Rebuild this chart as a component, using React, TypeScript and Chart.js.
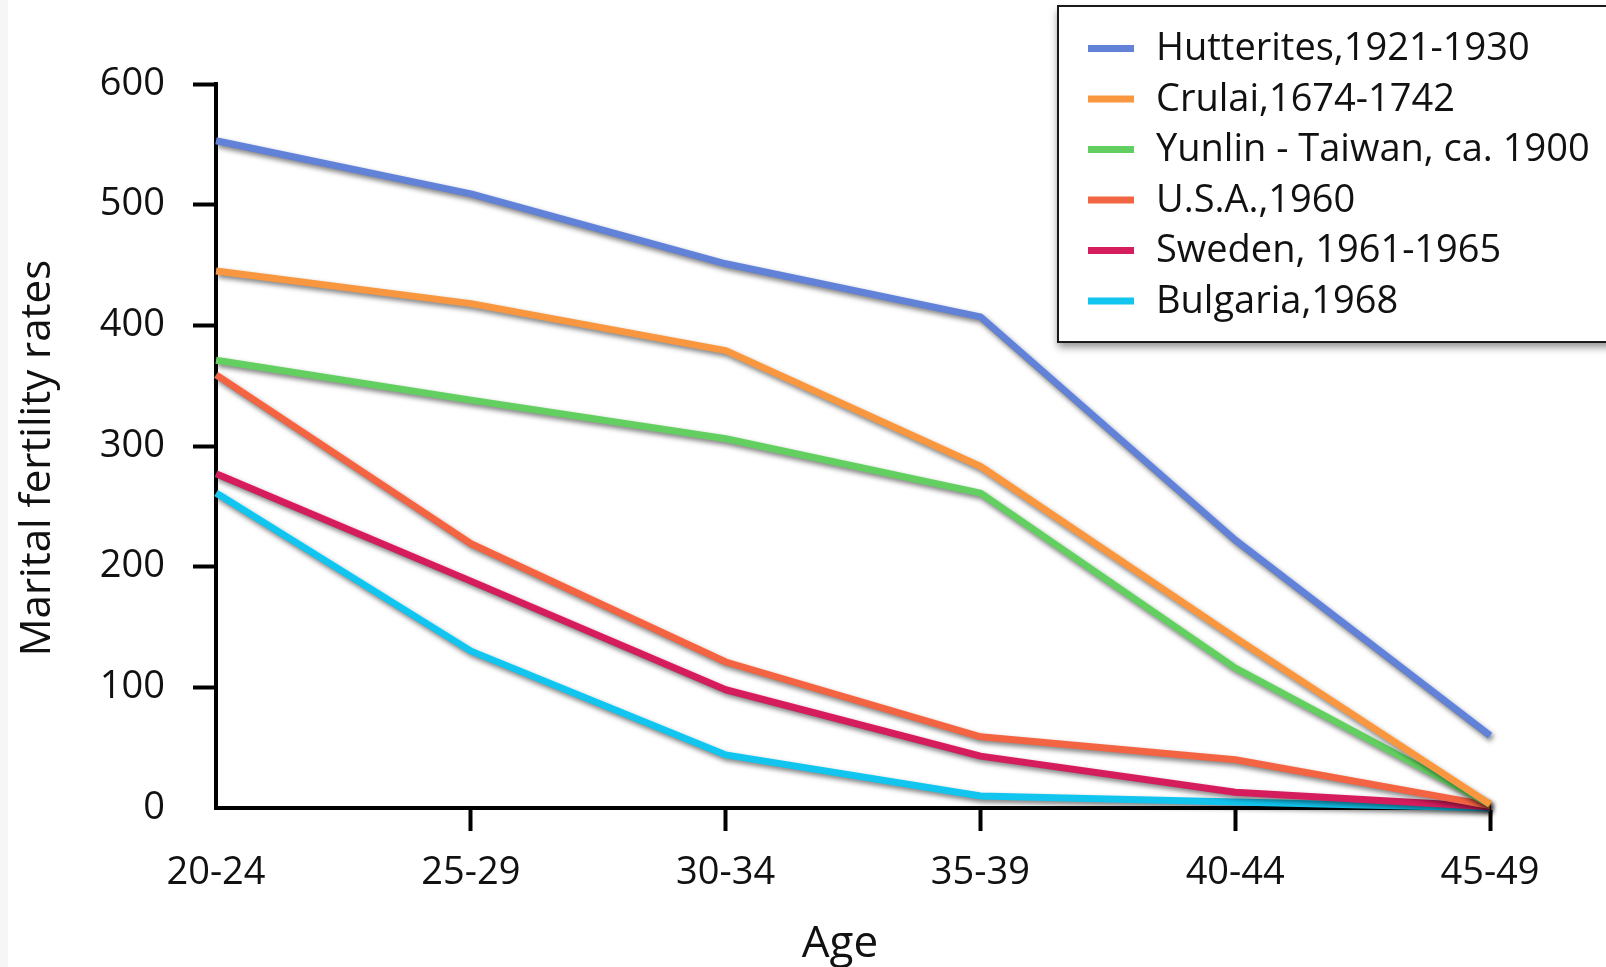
import React, { useEffect, useRef } from 'react';
import { Chart, registerables } from 'chart.js';

Chart.register(...registerables);

// ---- data ----
const ageGroups = ['20-24', '25-29', '30-34', '35-39', '40-44', '45-49'];
const hutterites = [553, 509, 451, 407, 222, 60];
const crulai = [445, 418, 379, 283, 141, 3];
const yunlin = [371, 338, 306, 261, 116, 3];
const usa = [359, 219, 121, 59, 40, 2];
const sweden = [277, 188, 98, 43, 13, 1];
const bulgaria = [261, 130, 44, 10, 5, 0];
const seriesLabels = [
  'Hutterites,1921-1930',
  'Crulai,1674-1742',
  'Yunlin - Taiwan, ca. 1900',
  'U.S.A.,1960',
  'Sweden, 1961-1965',
  'Bulgaria,1968',
];
const seriesColors = ['#6282d8', '#f8973f', '#63cf61', '#f36442', '#d51d5d', '#12c5ef'];
const yTicks = [0, 100, 200, 300, 400, 500, 600];
const xTitle = 'Age';
const yTitle = 'Marital fertility rates';

const FONT = '"Open Sans", "Noto Sans", sans-serif';

export default function App() {
  const ref = useRef<HTMLCanvasElement>(null);

  useEffect(() => {
    document.body.style.margin = '0';
    const canvas = ref.current;
    if (!canvas) return;

    const allSeries = [hutterites, crulai, yunlin, usa, sweden, bulgaria];

    const bgPlugin = {
      id: 'bg',
      beforeDraw(chart: any) {
        const { ctx, width, height } = chart;
        ctx.save();
        ctx.fillStyle = '#ffffff';
        ctx.fillRect(0, 0, width, height);
        ctx.fillStyle = '#f6f6f6';
        ctx.fillRect(0, 0, 8, height);
        ctx.restore();
      },
    };

    const shadowPlugin = {
      id: 'lineShadow',
      beforeDatasetsDraw(chart: any) {
        const ctx = chart.ctx;
        ctx.save();
        ctx.shadowColor = 'rgba(0,0,0,0.5)';
        ctx.shadowBlur = 5;
        ctx.shadowOffsetX = 2;
        ctx.shadowOffsetY = 3;
      },
      afterDatasetsDraw(chart: any) {
        chart.ctx.restore();
      },
    };

    const titlesPlugin = {
      id: 'axisTitles',
      afterDraw(chart: any) {
        const { ctx, chartArea } = chart;
        ctx.save();
        ctx.fillStyle = '#111';
        ctx.textAlign = 'center';
        ctx.textBaseline = 'alphabetic';
        // x title
        ctx.font = `500 44px ${FONT}`;
        ctx.fillText(xTitle, (chartArea.left + chartArea.right) / 2 - 13, chartArea.bottom + 149);
        // y title
        ctx.font = `500 42px ${FONT}`;
        ctx.translate(chartArea.left - 166, (chartArea.top + chartArea.bottom) / 2 + 12);
        ctx.rotate(-Math.PI / 2);
        ctx.fillText(yTitle, 0, 0);
        ctx.restore();
      },
    };

    const legendPlugin = {
      id: 'boxLegend',
      afterDraw(chart: any) {
        const { ctx } = chart;
        const bx = 1058;
        const by = 6;
        const bw = 620;
        const bh = 336;
        ctx.save();
        ctx.shadowColor = 'rgba(0,0,0,0.45)';
        ctx.shadowBlur = 8;
        ctx.shadowOffsetX = 0;
        ctx.shadowOffsetY = 5;
        ctx.fillStyle = '#ffffff';
        ctx.fillRect(bx, by, bw, bh);
        ctx.restore();
        ctx.save();
        ctx.strokeStyle = '#1a1a1a';
        ctx.lineWidth = 2;
        ctx.strokeRect(bx, by, bw, bh);
        ctx.font = `500 38px ${FONT}`;
        ctx.textBaseline = 'middle';
        ctx.textAlign = 'left';
        chart.data.datasets.forEach((ds: any, i: number) => {
          const y = 48.5 + i * 50.5;
          ctx.strokeStyle = ds.borderColor;
          ctx.lineWidth = 7;
          ctx.beginPath();
          ctx.moveTo(1088, y);
          ctx.lineTo(1134, y);
          ctx.stroke();
          ctx.fillStyle = '#111';
          ctx.fillText(ds.label, 1156, y + 1);
        });
        ctx.restore();
      },
    };

    const chart = new Chart(canvas, {
      type: 'line',
      data: {
        labels: ageGroups,
        datasets: allSeries.map((d, i) => ({
          label: seriesLabels[i],
          data: d,
          borderColor: seriesColors[i],
          backgroundColor: seriesColors[i],
          borderWidth: 7,
          pointRadius: 0,
          pointHoverRadius: 0,
          tension: 0,
          fill: false,
          clip: false as any,
          borderJoinStyle: 'round' as const,
        })),
      },
      options: {
        animation: false,
        responsive: true,
        maintainAspectRatio: false,
        layout: { padding: { top: 84, right: 116, left: 0, bottom: 0 } },
        plugins: {
          legend: { display: false },
          tooltip: { enabled: false },
        },
        scales: {
          x: {
            type: 'category',
            offset: false,
            afterFit(scale: any) {
              scale.height = 159;
            },
            grid: {
              display: true,
              drawOnChartArea: false,
              drawTicks: true,
              tickLength: 23,
              tickWidth: 4,
              tickColor: (c: any) => (c.index === 0 ? 'rgba(0,0,0,0)' : '#000'),
            },
            border: { display: true, width: 4, color: '#000' },
            ticks: {
              color: '#111',
              font: { family: FONT, size: 38, weight: '500' as any },
              padding: 19,
              maxRotation: 0,
              autoSkip: false,
            },
          },
          y: {
            min: yTicks[0],
            max: yTicks[yTicks.length - 1],
            afterFit(scale: any) {
              scale.width = 216;
            },
            afterBuildTicks(scale: any) {
              scale.ticks = yTicks.map((v) => ({ value: v }));
            },
            grid: {
              display: true,
              drawOnChartArea: false,
              drawTicks: true,
              tickLength: 23,
              tickWidth: 4,
              tickColor: (c: any) => (c.index === 0 ? 'rgba(0,0,0,0)' : '#000'),
            },
            border: { display: true, width: 4, color: '#000' },
            ticks: {
              color: '#111',
              font: { family: FONT, size: 38, weight: '500' as any },
              padding: 28,
            },
          },
        },
      },
      plugins: [bgPlugin, shadowPlugin, titlesPlugin, legendPlugin],
    });

    return () => chart.destroy();
  }, []);

  return (
    <div style={{ position: 'fixed', left: 0, top: 0, width: 1606, height: 967, background: '#fff' }}>
      <canvas ref={ref} />
    </div>
  );
}
